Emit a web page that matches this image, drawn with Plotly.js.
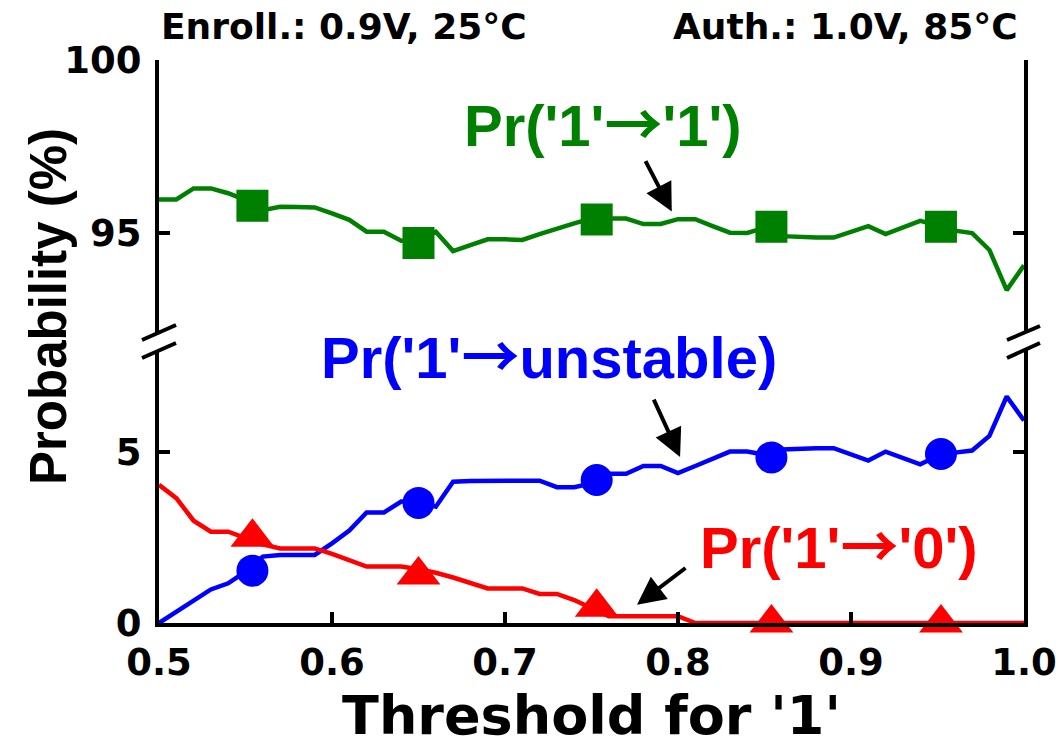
<!DOCTYPE html>
<html>
<head>
<meta charset="utf-8">
<script src="https://cdn.plot.ly/plotly-3.0.1.min.js"></script>
<style>html,body{margin:0;padding:0;background:#fff;}#chart{width:1059px;height:754px;}</style>
</head>
<body>
<div id="chart"></div>
<script>
// ---- data ----
const threshold = [0.50,0.51,0.52,0.53,0.54,0.55,0.56,0.57,0.58,0.59,
  0.60,0.61,0.62,0.63,0.64,0.65,0.66,0.67,0.68,0.69,
  0.70,0.71,0.72,0.73,0.74,0.75,0.76,0.77,0.78,0.79,
  0.80,0.81,0.82,0.83,0.84,0.85,0.86,0.87,0.88,0.89,
  0.90,0.91,0.92,0.93,0.94,0.95,0.96,0.97,0.98,0.99,1.00];

const prOneToOne = [95.97,95.97,96.29,96.29,96.15,95.95,95.66,95.76,95.75,95.74,
  95.57,95.38,95.04,95.04,94.78,94.80,95.04,94.48,94.65,94.82,
  94.82,94.80,94.97,95.14,95.28,95.42,95.42,95.42,95.26,95.26,
  95.40,95.40,95.20,95.01,95.00,95.15,94.91,94.88,94.87,94.87,
  95.04,95.20,94.97,95.16,95.35,95.22,95.07,95.00,94.51,93.35,94.07];

const prOneToUnstable = [0.00,0.33,0.67,0.98,1.16,1.50,1.94,1.99,1.99,1.99,
  2.33,2.70,3.23,3.23,3.55,3.55,3.40,4.13,4.15,4.15,
  4.15,4.15,4.16,3.97,3.97,4.08,4.36,4.36,4.59,4.59,
  4.38,4.59,4.80,5.01,5.01,4.92,5.07,5.10,5.11,5.11,
  4.93,4.75,5.01,4.82,4.64,4.88,4.98,5.04,5.47,6.62,5.92];

const prOneToZero = [4.04,3.65,2.99,2.67,2.67,2.48,2.30,2.18,2.18,2.18,
  2.02,1.83,1.65,1.65,1.65,1.57,1.47,1.33,1.17,1.01,
  1.01,1.01,0.85,0.85,0.67,0.45,0.20,0.20,0.20,0.20,
  0.20,0.00,0.00,0.00,0.00,0.00,0.00,0.00,0.00,0.00,
  0.00,0.00,0.00,0.00,0.00,0.00,0.00,0.00,0.00,0.00,0.00];

const markerThreshold = [0.554,0.650,0.753,0.854,0.952];
const markerOneToOne = [95.79,94.71,95.39,95.18,95.18];
const markerOneToUnstable = [1.53,3.51,4.18,4.84,4.94];
const markerOneToZero = [2.51,1.40,0.46,0.00,0.00];

const xTickVals = [0.5,0.6,0.7,0.8,0.9,1.0];
const xTickText = ['0.5','0.6','0.7','0.8','0.9','1.0'];
const yLowTickVals = [0,5];
const yHighTickVals = [95,100];

const ARROW = '<span style="font-family:Noto Sans CJK SC;font-weight:bold">\u2192</span>';
const labelOneToOne = "Pr('1'" + ARROW + "'1')";
const labelOneToUnstable = "Pr('1'" + ARROW + "unstable)";
const labelOneToZero = "Pr('1'" + ARROW + "'0')";
const xTitle = "Threshold for '1'";
const yTitle = "Probability (%)";
const leftCaption = "Enroll.: 0.9V, 25\u00B0C";
const rightCaption = "Auth.: 1.0V, 85\u00B0C";

// ---- styles ----
const GREEN = '#008000', BLUE = '#0000FF', RED = '#FF0000';
const LW = 4.5;
const axisFont = {family: 'DejaVu Sans', size: 37, color: '#000', weight: 'bold'};
const labelFamily = 'Liberation Sans, Arial, sans-serif';

const traces = [
  {x: threshold, y: prOneToOne, xaxis: 'x', yaxis: 'y2', mode: 'lines', line: {color: GREEN, width: LW}},
  {x: markerThreshold, y: markerOneToOne, xaxis: 'x', yaxis: 'y2', mode: 'markers', marker: {symbol: 'square', size: 32, color: GREEN}},
  {x: threshold, y: prOneToUnstable, xaxis: 'x', yaxis: 'y', mode: 'lines', line: {color: BLUE, width: LW}},
  {x: markerThreshold, y: markerOneToUnstable, xaxis: 'x', yaxis: 'y', mode: 'markers', marker: {symbol: 'circle', size: 32, color: BLUE}},
  {x: threshold, y: prOneToZero, xaxis: 'x', yaxis: 'y', mode: 'lines', line: {color: RED, width: LW}, cliponaxis: false},
  {x: markerThreshold, y: markerOneToZero, xaxis: 'x', yaxis: 'y', mode: 'markers', marker: {symbol: 'triangle-up', size: 38, color: RED}, cliponaxis: false}
];

// plot geometry helpers (paper coordinates)
const L = 159, R = 1024, T = 60, B = 623;
const px = v => (v - L) / (R - L);
const py = v => (B - v) / (B - T);

const brk = (x0, y0, x1, y1) => ({type: 'line', xref: 'paper', yref: 'paper',
  x0: px(x0), y0: py(y0), x1: px(x1), y1: py(y1), line: {color: '#000', width: 4}});

const layout = {
  width: 1059, height: 754,
  margin: {l: L, r: 1059 - R, t: T, b: 754 - B},
  paper_bgcolor: '#fff', plot_bgcolor: '#fff',
  showlegend: false,
  xaxis: {
    range: [0.5, 1.0], anchor: 'y', domain: [0, 1],
    tickvals: xTickVals, ticktext: xTickText,
    ticks: 'inside', ticklen: 11, tickwidth: 4, tickcolor: '#000',
    showline: true, linewidth: 4, linecolor: '#000', showgrid: false, zeroline: false,
    tickfont: axisFont, ticklabelstandoff: 4,
    title: {text: xTitle, font: {family: 'DejaVu Sans', size: 54, color: '#000', weight: 'bold'}, standoff: 6}
  },
  xaxis2: {
    range: [0.5, 1.0], anchor: 'y2', overlaying: 'x', side: 'top', matches: 'x',
    tickvals: xTickVals, showticklabels: false,
    ticks: 'inside', ticklen: 11, tickwidth: 4, tickcolor: '#000',
    showline: true, linewidth: 4, linecolor: '#000', showgrid: false, zeroline: false
  },
  yaxis: {
    domain: [0, py(350)], range: [0, 7.98], anchor: 'x',
    tickvals: yLowTickVals,
    ticks: 'inside', ticklen: 11, tickwidth: 4, tickcolor: '#000',
    showline: true, mirror: 'ticks', linewidth: 4, linecolor: '#000', showgrid: false, zeroline: false,
    tickfont: axisFont, ticklabelstandoff: 6
  },
  yaxis2: {
    domain: [py(332), 1], range: [92.14, 100], anchor: 'x',
    tickvals: yHighTickVals,
    ticks: 'inside', ticklen: 11, tickwidth: 4, tickcolor: '#000',
    showline: true, mirror: 'ticks', linewidth: 4, linecolor: '#000', showgrid: false, zeroline: false,
    tickfont: axisFont, ticklabelstandoff: 6
  },
  shapes: [
    brk(142, 340, 176, 325), brk(142, 358, 176, 343),
    brk(1007, 340, 1040, 326), brk(1007, 358, 1040, 343)
  ],
  annotations: [
    {xref: 'paper', yref: 'paper', x: px(602.5), y: py(121), text: labelOneToOne, showarrow: false,
      xanchor: 'center', yanchor: 'middle', font: {family: labelFamily, size: 58, color: GREEN, weight: 'bold'}},
    {xref: 'paper', yref: 'paper', x: px(548.5), y: py(353), text: labelOneToUnstable, showarrow: false,
      xanchor: 'center', yanchor: 'middle', font: {family: labelFamily, size: 58, color: BLUE, weight: 'bold'}},
    {xref: 'paper', yref: 'paper', x: px(839), y: py(543), text: labelOneToZero, showarrow: false,
      xanchor: 'center', yanchor: 'middle', font: {family: labelFamily, size: 58, color: RED, weight: 'bold'}},
    {xref: 'x', yref: 'y2', x: 0.7964, y: 95.62, ax: -27, ay: -52, text: '', showarrow: true,
      arrowhead: 2, arrowsize: 1.4, arrowwidth: 4, arrowcolor: '#000', standoff: 0},
    {xref: 'x', yref: 'y', x: 0.8012, y: 4.85, ax: -27, ay: -59, text: '', showarrow: true,
      arrowhead: 2, arrowsize: 1.4, arrowwidth: 4, arrowcolor: '#000', standoff: 0},
    {xref: 'x', yref: 'y', x: 0.7763, y: 0.53, ax: 50, ay: -38, text: '', showarrow: true,
      arrowhead: 2, arrowsize: 1.4, arrowwidth: 4, arrowcolor: '#000', standoff: 0},
    {xref: 'paper', yref: 'paper', x: px(48), y: py(307), text: yTitle, textangle: -90, showarrow: false,
      xanchor: 'center', yanchor: 'middle', font: {family: labelFamily, size: 51, color: '#000', weight: 'bold'}},
    {xref: 'paper', yref: 'paper', x: 0, y: py(26), text: leftCaption, showarrow: false,
      xanchor: 'left', yanchor: 'middle', font: {family: 'DejaVu Sans', size: 36, color: '#000', weight: 'bold'}},
    {xref: 'paper', yref: 'paper', x: px(1020), y: py(26), text: rightCaption, showarrow: false,
      xanchor: 'right', yanchor: 'middle', font: {family: 'DejaVu Sans', size: 36, color: '#000', weight: 'bold'}}
  ]
};

Plotly.newPlot('chart', traces, layout, {displayModeBar: false, staticPlot: true});
</script>
</body>
</html>
